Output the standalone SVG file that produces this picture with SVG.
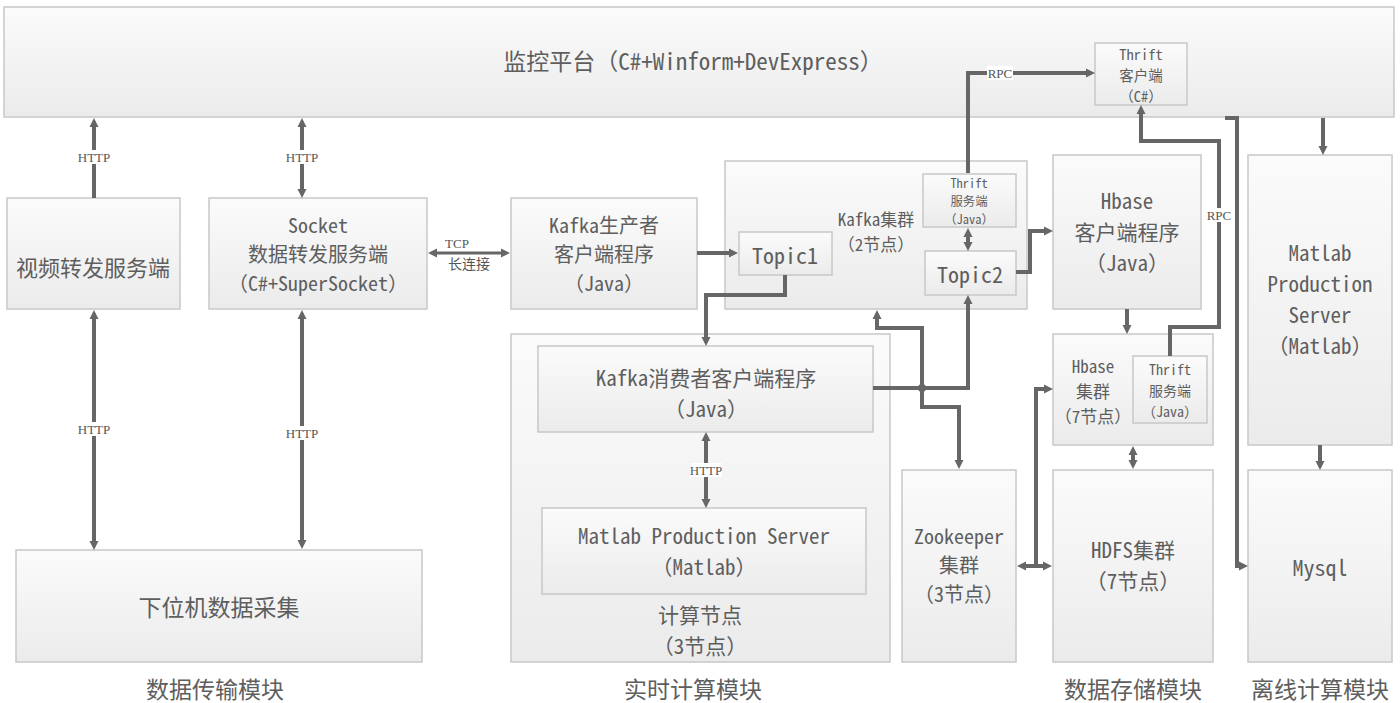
<svg xmlns="http://www.w3.org/2000/svg" width="1400" height="703" viewBox="0 0 1400 703">
<defs>
<linearGradient id="gb" x1="0" y1="0" x2="0" y2="1">
<stop offset="0" stop-color="#fbfbfb"/>
<stop offset="1" stop-color="#ebebeb"/>
</linearGradient>
<marker id="ah" viewBox="0 0 10 10" markerWidth="10" markerHeight="10" refX="1" refY="5" orient="auto-start-reverse" markerUnits="userSpaceOnUse">
<path d="M0,0.5 L9,5 L0,9.5 z" fill="#666"/>
</marker>
<style>
.box{fill:url(#gb);stroke:#c8c8c8;stroke-width:1.5}
.t{font-family:"Noto Sans Mono CJK SC","Liberation Mono","Noto Sans CJK SC",monospace;fill:#5e5e5e;text-anchor:middle;dominant-baseline:central}
.c{fill:none;stroke:#666;stroke-width:4}
.a{marker-end:url(#ah)}
.b{marker-start:url(#ah);marker-end:url(#ah)}
.lb{font-family:"Liberation Serif","Noto Sans CJK SC",serif;font-size:13px;fill:#555;text-anchor:middle;dominant-baseline:central}
.lbg{fill:#fff}
</style>
</defs>
<rect width="1400" height="703" fill="#fff"/>

<g id="platform">
<rect class="box" x="4" y="7" width="1390" height="110"/>
<text class="t" x="693" y="60" font-size="23">监控平台（C#+Winform+DevExpress）</text>
</g>
<g id="thrift-client">
<rect class="box" x="1095" y="43" width="92" height="62"/>
<text class="t" font-size="14.5"><tspan x="1141" y="53">Thrift</tspan><tspan x="1141" y="74">客户端</tspan><tspan x="1141" y="95">（C#）</tspan></text>
</g>

<g id="video-server">
<rect class="box" x="7" y="198" width="173" height="111"/>
<text class="t" x="93" y="266" font-size="22">视频转发服务端</text>
</g>
<g id="socket-server">
<rect class="box" x="209" y="198" width="218" height="111"/>
<text class="t" font-size="20"><tspan x="318" y="224">Socket</tspan><tspan x="318" y="253">数据转发服务端</tspan><tspan x="318" y="282">（C#+SuperSocket）</tspan></text>
</g>
<g id="lower-machine">
<rect class="box" x="16" y="550" width="406" height="112"/>
<text class="t" x="219" y="606" font-size="23">下位机数据采集</text>
</g>

<g id="kafka-producer">
<rect class="box" x="511" y="198" width="186" height="111"/>
<text class="t" font-size="20"><tspan x="604" y="224">Kafka生产者</tspan><tspan x="604" y="253">客户端程序</tspan><tspan x="604" y="282">（Java）</tspan></text>
</g>

<g id="kafka-cluster">
<rect class="box" x="725" y="161" width="302" height="148"/>
<text class="t" font-size="17"><tspan x="876" y="218">Kafka集群</tspan><tspan x="876" y="243">（2节点）</tspan></text>
</g>
<g id="topic1">
<rect class="box" x="739" y="232" width="93" height="43"/>
<text class="t" x="785" y="254" font-size="22">Topic1</text>
</g>
<g id="kafka-thrift-server">
<rect class="box" x="923" y="174" width="93" height="53"/>
<text class="t" font-size="12.4"><tspan x="969" y="183">Thrift</tspan><tspan x="969" y="201">服务端</tspan><tspan x="969" y="219">（Java）</tspan></text>
</g>
<g id="topic2">
<rect class="box" x="925" y="251" width="91" height="44"/>
<text class="t" x="970" y="273" font-size="22">Topic2</text>
</g>

<g id="realtime-compute">
<rect class="box" x="511" y="334" width="379" height="328"/>
<text class="t" font-size="21"><tspan x="700" y="614">计算节点</tspan><tspan x="700" y="645">（3节点）</tspan></text>
</g>
<g id="kafka-consumer">
<rect class="box" x="538" y="346" width="335" height="86"/>
<text class="t" font-size="21"><tspan x="706" y="377">Kafka消费者客户端程序</tspan><tspan x="706" y="408">（Java）</tspan></text>
</g>
<g id="matlab-inner">
<rect class="box" x="542" y="508" width="324" height="86"/>
<text class="t" font-size="21"><tspan x="704" y="535">Matlab Production Server</tspan><tspan x="704" y="566">（Matlab）</tspan></text>
</g>

<g id="zookeeper">
<rect class="box" x="902" y="470" width="114" height="192"/>
<text class="t" font-size="20"><tspan x="959" y="535">Zookeeper</tspan><tspan x="959" y="564">集群</tspan><tspan x="959" y="593">（3节点）</tspan></text>
</g>

<g id="hbase-client">
<rect class="box" x="1053" y="155" width="148" height="154"/>
<text class="t" font-size="21"><tspan x="1127" y="200">Hbase</tspan><tspan x="1127" y="231">客户端程序</tspan><tspan x="1127" y="262">（Java）</tspan></text>
</g>
<g id="hbase-cluster">
<rect class="box" x="1053" y="334" width="160" height="111"/>
<text class="t" font-size="17"><tspan x="1093" y="365">Hbase</tspan><tspan x="1093" y="390">集群</tspan><tspan x="1093" y="415">（7节点）</tspan></text>
</g>
<g id="hbase-thrift-server">
<rect class="box" x="1133" y="356" width="74" height="67"/>
<text class="t" font-size="14"><tspan x="1170" y="369">Thrift</tspan><tspan x="1170" y="390">服务端</tspan><tspan x="1170" y="411">（Java）</tspan></text>
</g>
<g id="hdfs">
<rect class="box" x="1053" y="470" width="160" height="192"/>
<text class="t" font-size="21"><tspan x="1133" y="549">HDFS集群</tspan><tspan x="1133" y="580">（7节点）</tspan></text>
</g>

<g id="matlab-offline">
<rect class="box" x="1248" y="155" width="144" height="290"/>
<text class="t" font-size="21"><tspan x="1320" y="252">Matlab</tspan><tspan x="1320" y="283">Production</tspan><tspan x="1320" y="314">Server</tspan><tspan x="1320" y="345">（Matlab）</tspan></text>
</g>
<g id="mysql">
<rect class="box" x="1248" y="470" width="144" height="192"/>
<text class="t" x="1320" y="566" font-size="22">Mysql</text>
</g>

<g id="module-labels">
<text class="t" x="215" y="688" font-size="23">数据传输模块</text>
<text class="t" x="693" y="688" font-size="23">实时计算模块</text>
<text class="t" x="1133" y="688" font-size="23">数据存储模块</text>
<text class="t" x="1320" y="688" font-size="23">离线计算模块</text>
</g>

<g id="connectors">
<path class="c a" d="M94,198 V126"/>
<path class="c b" d="M302,126 V190"/>
<path class="c b" d="M94,318 V542"/>
<path class="c b" d="M302,318 V541"/>
<path class="c b" d="M436,253 H502" style="stroke-width:3"/>
<path class="c a" d="M697,253 H730"/>
<path class="c a" d="M785,275 V295 H706 V338"/>
<path class="c a" d="M1016,272 H1030 V231 H1045"/>
<path class="c b" d="M968,236 V243"/>
<path class="c a" d="M968,173 V73 H1087"/>
<path class="c a" d="M873,388 H968 V303"/>
<circle cx="922" cy="388" r="4" fill="#666"/>
<path class="c b" d="M877,318 V328 H922 V407 H959 V461"/>
<path class="c b" d="M1025,566 H1044"/>
<path class="c a" d="M1036,566 V389 H1045"/>
<path class="c a" d="M1127,309 V326"/>
<path class="c b" d="M1133,454 V461"/>
<path class="c a" d="M1170,356 V327 H1219 V141 H1141 V113"/>
<path class="c a" d="M1225,118 H1237 V566 H1240"/>
<path class="c a" d="M1323,118 V147"/>
<path class="c a" d="M1320,445 V462"/>
<path class="c b" d="M706,440 V500"/>

<rect class="lbg" x="78" y="150" width="32" height="14"/>
<text class="lb" x="94" y="157">HTTP</text>
<rect class="lbg" x="286" y="150" width="32" height="14"/>
<text class="lb" x="302" y="157">HTTP</text>
<rect class="lbg" x="78" y="422" width="32" height="14"/>
<text class="lb" x="94" y="429">HTTP</text>
<rect class="lbg" x="286" y="426" width="32" height="14"/>
<text class="lb" x="302" y="433">HTTP</text>
<rect class="lbg" x="690" y="463" width="32" height="14"/>
<text class="lb" x="706" y="470">HTTP</text>
<rect class="lbg" x="987" y="66" width="26" height="14"/>
<text class="lb" x="1000" y="73">RPC</text>
<rect class="lbg" x="1206" y="208" width="26" height="14"/>
<text class="lb" x="1219" y="215">RPC</text>
<text class="lb" font-size="13"><tspan x="457" y="243">TCP</tspan><tspan x="469" y="264" style="font-size:14px">长连接</tspan></text>
</g>
</svg>
